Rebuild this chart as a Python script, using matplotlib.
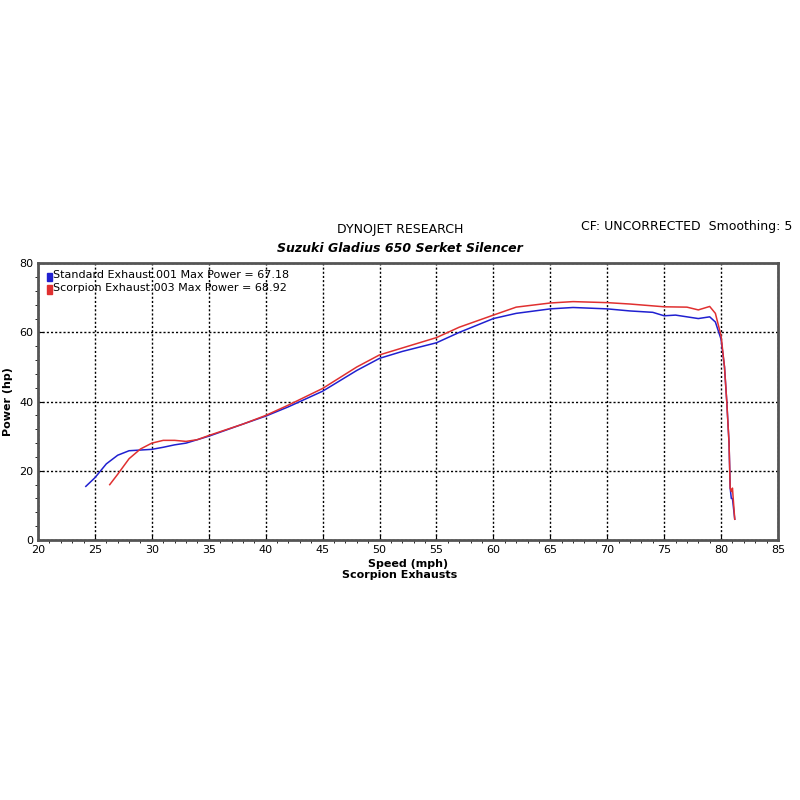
import matplotlib
matplotlib.use("Agg")
import matplotlib.pyplot as plt
from matplotlib.ticker import MultipleLocator

std_x = [24.2,25,26,27,28,29,30,31,32,33,35,38,40,42,45,48,50,52,55,57,60,62,65,67,70,72,74,75,76,77,78,79,79.5,80,80.3,80.5,80.7,80.8,80.9,81.0,81.2]
std_y = [15.5,18,22,24.5,25.8,26,26.2,26.8,27.5,28,30,33.5,35.8,38.5,43,49,52.5,54.5,57,60,64,65.5,66.8,67.2,66.8,66.2,65.8,64.8,65,64.5,64,64.5,63,58,50,40,28,15,12,12,6]
sco_x = [26.3,27,28,29,30,31,32,33,34,35,38,40,42,45,48,50,52,55,57,60,62,65,67,70,72,75,77,78,79,79.5,80,80.3,80.5,80.7,80.8,80.9,81.0,81.2]
sco_y = [16,19,23.5,26.3,28,28.8,28.8,28.5,29,30.2,33.5,36,39,43.8,50,53.5,55.5,58.5,61.5,65,67.3,68.5,68.9,68.6,68.2,67.4,67.3,66.5,67.5,65.5,59,50,40,28,15,14,15,6]

fig = plt.figure(figsize=(8,8), dpi=100)
ax = fig.add_axes([0.0475,0.325,0.925,0.346])
ax.plot(std_x, std_y, color='#2020d0', lw=1.1)
ax.plot(sco_x, sco_y, color='#e03030', lw=1.1)
ax.set_xlim(20,85); ax.set_ylim(0,80)
ax.set_xticks(range(20,86,5)); ax.set_yticks(range(0,81,20))
ax.xaxis.set_minor_locator(MultipleLocator(1)); ax.yaxis.set_minor_locator(MultipleLocator(4))
ax.grid(True, which='major', color='black', ls=(0,(1.5,1.5)), lw=1)
ax.tick_params(labelsize=8, direction='in')
for s in ax.spines.values(): s.set_linewidth(2); s.set_color('#555555')
ax.set_xlabel('Speed (mph)', fontsize=8, fontweight='bold', labelpad=3)
ax.set_ylabel('Power (hp)', fontsize=8, fontweight='bold')
fig.text(0.5,0.281,'Scorpion Exhausts', ha='center', va='center', fontsize=8, fontweight='bold')
fig.text(0.5,0.713,'DYNOJET RESEARCH', ha='center', va='center', fontsize=9)
fig.text(0.5,0.690,'Suzuki Gladius 650 Serket Silencer', ha='center', va='center', fontsize=9, fontweight='bold', style='italic')
fig.text(0.99,0.717,'CF: UNCORRECTED  Smoothing: 5', ha='right', va='center', fontsize=9)
ax.text(0.02,0.975,'Standard Exhaust.001 Max Power = 67.18', transform=ax.transAxes, fontsize=8, va='top')
ax.text(0.02,0.93,'Scorpion Exhaust.003 Max Power = 68.92', transform=ax.transAxes, fontsize=8, va='top')
ax.add_patch(plt.Rectangle((0.012,0.935),0.007,0.03,transform=ax.transAxes,color='#2020d0'))
ax.add_patch(plt.Rectangle((0.012,0.89),0.007,0.03,transform=ax.transAxes,color='#e03030'))
fig.savefig('out.png')
